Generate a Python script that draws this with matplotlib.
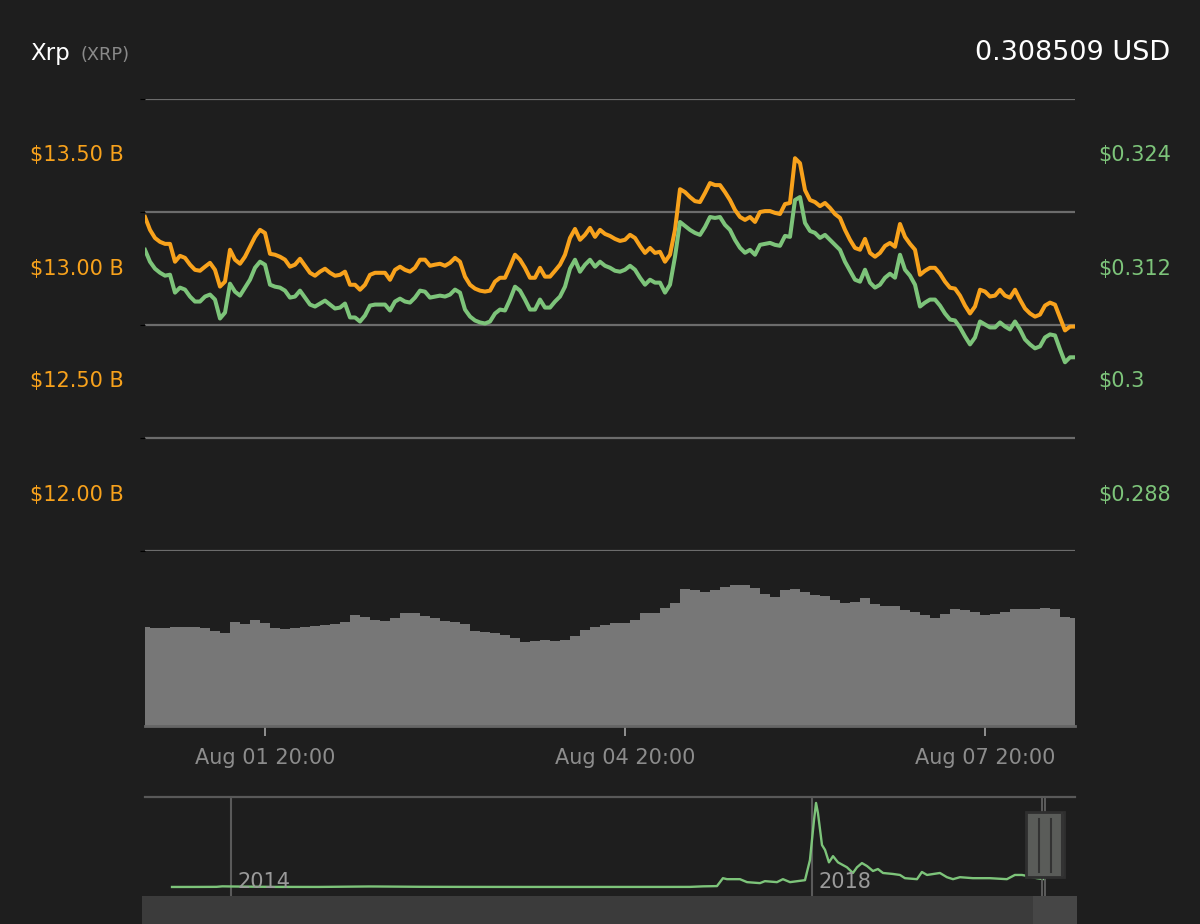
import matplotlib
matplotlib.use("Agg")
import matplotlib.pyplot as plt
import matplotlib.dates as mdates
from matplotlib.patches import Rectangle
from matplotlib.transforms import blended_transform_factory
import pandas as pd

# ---------------- data ----------------
coin_name = "Xrp"
coin_symbol = "(XRP)"
last_price_text = "0.308509 USD"

start_time = "2019-07-31 20:00"

# hourly market cap (USD billions)
market_cap_b = [
    13.478, 13.421, 13.385, 13.368, 13.359, 13.359, 13.280, 13.306, 13.297, 13.267,
    13.244, 13.240, 13.258, 13.275, 13.244, 13.170, 13.192, 13.333, 13.289, 13.271,
    13.302, 13.346, 13.390, 13.421, 13.407, 13.315, 13.311, 13.302, 13.289, 13.258,
    13.267, 13.293, 13.262, 13.231, 13.218, 13.236, 13.249, 13.231, 13.218, 13.222,
    13.236, 13.178, 13.178, 13.156, 13.178, 13.222, 13.231, 13.231, 13.231, 13.200,
    13.244, 13.258, 13.244, 13.236, 13.253, 13.289, 13.289, 13.262, 13.267, 13.271,
    13.262, 13.275, 13.297, 13.280, 13.214, 13.178, 13.161, 13.152, 13.148, 13.152,
    13.192, 13.209, 13.209, 13.258, 13.311, 13.289, 13.253, 13.209, 13.209, 13.253,
    13.214, 13.214, 13.240, 13.267, 13.311, 13.385, 13.425, 13.377, 13.399, 13.430,
    13.390, 13.421, 13.403, 13.394, 13.381, 13.372, 13.377, 13.399, 13.385, 13.350,
    13.319, 13.341, 13.319, 13.324, 13.280, 13.311, 13.421, 13.601, 13.588, 13.566,
    13.548, 13.544, 13.584, 13.628, 13.619, 13.619, 13.588, 13.553, 13.509, 13.478,
    13.465, 13.478, 13.456, 13.500, 13.504, 13.504, 13.496, 13.491, 13.535, 13.540,
    13.738, 13.716, 13.597, 13.553, 13.544, 13.526, 13.540, 13.518, 13.491, 13.474,
    13.421, 13.377, 13.341, 13.333, 13.381, 13.319, 13.302, 13.319, 13.350, 13.363,
    13.346, 13.447, 13.390, 13.359, 13.333, 13.222, 13.240, 13.253, 13.253, 13.227,
    13.192, 13.165, 13.161, 13.130, 13.086, 13.051, 13.082, 13.156, 13.148, 13.126,
    13.130, 13.156, 13.130, 13.121, 13.156, 13.112, 13.073, 13.051, 13.037, 13.046,
    13.086, 13.099, 13.090, 13.033, 12.976, 12.993, 12.993,
]

# hourly price (USD)
price_usd = [
    0.31998, 0.31872, 0.31798, 0.31755, 0.31724, 0.31734, 0.31544, 0.31597, 0.31576, 0.31502,
    0.31449, 0.31449, 0.31502, 0.31523, 0.31470, 0.31269, 0.31332, 0.31639, 0.31554, 0.31512,
    0.31597, 0.31681, 0.31808, 0.31872, 0.31840, 0.31628, 0.31607, 0.31597, 0.31565, 0.31491,
    0.31502, 0.31565, 0.31491, 0.31417, 0.31396, 0.31428, 0.31459, 0.31417, 0.31375, 0.31385,
    0.31428, 0.31280, 0.31280, 0.31237, 0.31301, 0.31406, 0.31417, 0.31417, 0.31417, 0.31354,
    0.31449, 0.31480, 0.31449, 0.31438, 0.31491, 0.31565, 0.31554, 0.31491, 0.31502, 0.31512,
    0.31502, 0.31523, 0.31576, 0.31544, 0.31364, 0.31290, 0.31248, 0.31227, 0.31216, 0.31237,
    0.31322, 0.31364, 0.31354, 0.31470, 0.31607, 0.31565, 0.31470, 0.31364, 0.31364, 0.31470,
    0.31385, 0.31385, 0.31449, 0.31502, 0.31607, 0.31798, 0.31893, 0.31766, 0.31840, 0.31893,
    0.31819, 0.31872, 0.31829, 0.31808, 0.31776, 0.31766, 0.31787, 0.31829, 0.31787, 0.31702,
    0.31628, 0.31681, 0.31650, 0.31650, 0.31544, 0.31628, 0.31924, 0.32294, 0.32252, 0.32210,
    0.32178, 0.32157, 0.32241, 0.32347, 0.32337, 0.32347, 0.32263, 0.32210, 0.32104, 0.32020,
    0.31967, 0.31998, 0.31946, 0.32051, 0.32062, 0.32072, 0.32051, 0.32041, 0.32146, 0.32136,
    0.32527, 0.32559, 0.32284, 0.32199, 0.32178, 0.32125, 0.32157, 0.32104, 0.32051, 0.31998,
    0.31872, 0.31776, 0.31681, 0.31660, 0.31787, 0.31650, 0.31597, 0.31628, 0.31702, 0.31745,
    0.31702, 0.31946, 0.31787, 0.31724, 0.31628, 0.31396, 0.31438, 0.31470, 0.31470, 0.31406,
    0.31322, 0.31258, 0.31248, 0.31174, 0.31079, 0.30994, 0.31068, 0.31237, 0.31206, 0.31174,
    0.31174, 0.31227, 0.31184, 0.31153, 0.31237, 0.31153, 0.31047, 0.30994, 0.30952, 0.30973,
    0.31068, 0.31100, 0.31089, 0.30941, 0.30804, 0.30857, 0.30857,
]

# 2-hourly 24h volume (USD billions)
volume_b = [
    1.131, 1.120, 1.120, 1.131, 1.131, 1.131, 1.120, 1.086, 1.063, 1.189,
    1.166, 1.211, 1.177, 1.120, 1.109, 1.120, 1.131, 1.143, 1.154, 1.166,
    1.189, 1.269, 1.246, 1.211, 1.200, 1.234, 1.291, 1.291, 1.257, 1.234,
    1.200, 1.189, 1.166, 1.086, 1.074, 1.063, 1.040, 1.006, 0.960, 0.971,
    0.983, 0.971, 0.983, 1.029, 1.097, 1.131, 1.154, 1.177, 1.177, 1.211,
    1.291, 1.291, 1.349, 1.406, 1.566, 1.554, 1.531, 1.554, 1.589, 1.611,
    1.611, 1.577, 1.509, 1.474, 1.554, 1.566, 1.531, 1.497, 1.486, 1.440,
    1.406, 1.417, 1.463, 1.394, 1.371, 1.371, 1.326, 1.303, 1.269, 1.234,
    1.280, 1.337, 1.326, 1.303, 1.269, 1.280, 1.303, 1.337, 1.337, 1.337,
    1.349, 1.337, 1.246, 1.234,
]

# navigator: all-time price history (decimal year, USD)
nav_year = [2013.594, 2013.75, 2013.90, 2013.94, 2014.0, 2014.3, 2014.6, 2014.95, 2015.0, 2015.3,
            2015.6, 2016.0, 2016.5, 2017.0, 2017.16, 2017.25, 2017.346, 2017.387, 2017.415, 2017.504,
            2017.553, 2017.642, 2017.676, 2017.759, 2017.800, 2017.849, 2017.952, 2017.986, 2018.014, 2018.028,
            2018.041, 2018.069, 2018.090, 2018.117, 2018.145, 2018.179, 2018.241, 2018.282, 2018.310, 2018.344,
            2018.379, 2018.420, 2018.454, 2018.489, 2018.558, 2018.606, 2018.640, 2018.723, 2018.757, 2018.792,
            2018.881, 2018.929, 2018.971, 2019.019, 2019.108, 2019.225, 2019.342, 2019.397, 2019.446, 2019.480,
            2019.549, 2019.600]
nav_price = [0.005, 0.006, 0.01, 0.03, 0.025, 0.008, 0.006, 0.025, 0.024, 0.012,
             0.008, 0.006, 0.006, 0.0065, 0.008, 0.03, 0.04, 0.36, 0.32, 0.32,
             0.2, 0.16, 0.24, 0.2, 0.32, 0.2, 0.28, 1.09, 2.7, 3.4,
             3.0, 1.7, 1.5, 1.0, 1.25, 1.0, 0.8, 0.57, 0.8, 0.97,
             0.85, 0.65, 0.73, 0.57, 0.53, 0.49, 0.36, 0.32, 0.61, 0.49,
             0.57, 0.4, 0.32, 0.4, 0.36, 0.36, 0.32, 0.49, 0.49, 0.45,
             0.36, 0.32]

cap_grid = [12.0, 12.5, 13.0, 13.5, 14.0]
cap_labels = ["$12.00 B", "$12.50 B", "$13.00 B", "$13.50 B"]
price_grid = [0.288, 0.300, 0.312, 0.324, 0.336]
price_labels = ["$0.288", "$0.3", "$0.312", "$0.324"]
date_ticks = ["2019-08-01 20:00", "2019-08-04 20:00", "2019-08-07 20:00"]
nav_ticks = [2014, 2018]
nav_tick_labels = ["2014", "2018"]

# ---------------- style ----------------
BG = "#1e1e1e"
ORANGE = "#f8a21c"
GREEN = "#7dc47a"
GRID = "#6c6c6c"
FONT = "DejaVu Sans"
plt.rcParams["font.family"] = [FONT]

times = pd.date_range(start_time, periods=len(market_cap_b), freq="1h")
vol_times = pd.date_range(start_time, periods=len(volume_b), freq="2h")

W, H = 1200, 924
fig = plt.figure(figsize=(W / 100, H / 100), dpi=100, facecolor=BG)


def rect(l, t, r, b):
    return [l / W, 1 - b / H, (r - l) / W, (b - t) / H]


# ---------------- main chart ----------------
ax = fig.add_axes(rect(145, 99, 1075, 551))
ax.set_facecolor("none")
ax.set_xlim(times[0], times[-1])
ax.set_ylim(cap_grid[0], cap_grid[-1])
ax.set_yticks(cap_grid)
ax.grid(axis="y", color=GRID, lw=1.6)
ax.tick_params(left=False, bottom=False, labelleft=False, labelbottom=False)
for s in ax.spines.values():
    s.set_visible(False)

ax2 = ax.twinx()
ax2.set_ylim(price_grid[0], price_grid[-1])
ax2.set_yticks([])
for s in ax2.spines.values():
    s.set_visible(False)

ax2.plot(times, price_usd, color=GREEN, lw=2.9, solid_joinstyle="round")
ax.plot(times, market_cap_b, color=ORANGE, lw=2.9, solid_joinstyle="round", zorder=3)

cap_half = (cap_grid[1] - cap_grid[0]) / 2
price_half = (price_grid[1] - price_grid[0]) / 2
trL = ax.get_yaxis_transform()
for v, lab in zip(cap_grid[:-1], cap_labels):
    ax.text(-0.1237, v + cap_half, lab, transform=trL, color=ORANGE, fontsize=15,
            ha="left", va="center")
trR = ax2.get_yaxis_transform()
for v, lab in zip(price_grid[:-1], price_labels):
    ax2.text(1.0247, v + price_half, lab, transform=trR, color=GREEN, fontsize=15,
             ha="left", va="center")

# ---------------- volume ----------------
axv = fig.add_axes(rect(145, 551, 1075, 726))
axv.set_facecolor("none")
axv.fill_between(vol_times, volume_b, 0, step="mid", color="#777777", lw=0)
axv.set_xlim(times[0], times[-1])
axv.set_ylim(0, 2.0)
axv.set_yticks([])
for k in ["top", "left", "right"]:
    axv.spines[k].set_visible(False)
axv.spines["bottom"].set_color("#666666")
axv.spines["bottom"].set_linewidth(2)
axv.set_xticks(pd.to_datetime(date_ticks))
axv.xaxis.set_major_formatter(mdates.DateFormatter("%b %d %H:%M"))
axv.tick_params(axis="x", length=7.5, width=1.3, color="#9a9a9a",
                labelcolor="#8c8c8c", labelsize=15, pad=8)

# ---------------- navigator ----------------
axn = fig.add_axes(rect(145, 797, 1075, 896))
axn.set_facecolor("none")
axn.set_xlim(2013.408, 2019.811)
axn.set_ylim(-0.36, 3.64)
axn.plot(nav_year, nav_price, color=GREEN, lw=1.7)
axn.set_xticks(nav_ticks)
axn.grid(axis="x", color="#5a5a5a", lw=1.5)
axn.set_yticks([])
axn.tick_params(bottom=False, labelbottom=False)
for k in ["bottom", "left", "right"]:
    axn.spines[k].set_visible(False)
axn.spines["top"].set_color("#595959")
axn.spines["top"].set_linewidth(1.6)
for yr, lab in zip(nav_ticks, nav_tick_labels):
    axn.annotate(lab, xy=(yr, 0.08), xycoords=("data", "axes fraction"),
                 xytext=(5, 0), textcoords="offset points", color="#9a9a9a",
                 fontsize=15, ha="left", va="baseline")

# scrollbar
fig.patches.append(Rectangle((142 / W, 0), 935 / W, 28 / H, transform=fig.transFigure,
                             facecolor="#3b3b3b", edgecolor="none", zorder=0))
fig.patches.append(Rectangle((1033 / W, 0), 44 / W, 28 / H, transform=fig.transFigure,
                             facecolor="#464646", edgecolor="none", zorder=0))

# selected range markers & handle
sel_start = 2019 + (211 + 20 / 24) / 365
sel_end = 2019 + (219 + 14 / 24) / 365
for x in (sel_start, sel_end):
    axn.axvline(x, ymin=-28 / 99, ymax=1, clip_on=False, color="#5c5c5c", lw=1.4)
px_per_year = 145.25
center = (sel_start + sel_end) / 2 + 1.5 / px_per_year
hw = 38 / px_per_year
tr = blended_transform_factory(axn.transData, axn.transAxes)
axn.add_patch(Rectangle((center - hw / 2, 0.19), hw, 0.66, transform=tr,
                        facecolor="#5a5c59", edgecolor="#2f2f2f", lw=2, clip_on=False, zorder=6))
for dx in (-6, 6, 17):
    axn.plot([center + dx / px_per_year] * 2, [0.24, 0.78] if dx != 17 else [0.2, 0.84],
             transform=tr, color="#333333", lw=1.5, clip_on=False, zorder=7)

# ---------------- titles ----------------
fig.text(30 / W, 1 - 60 / H, coin_name, color="white", fontsize=16.5, ha="left", va="baseline")
fig.text(80 / W, 1 - 60 / H, coin_symbol, color="#8a8a8a", fontsize=12.8, ha="left", va="baseline")
fig.text(1170 / W, 1 - 60 / H, last_price_text, color="white", fontsize=19.5, ha="right",
         va="baseline")

fig.savefig("out.png", dpi=100, facecolor=BG)
